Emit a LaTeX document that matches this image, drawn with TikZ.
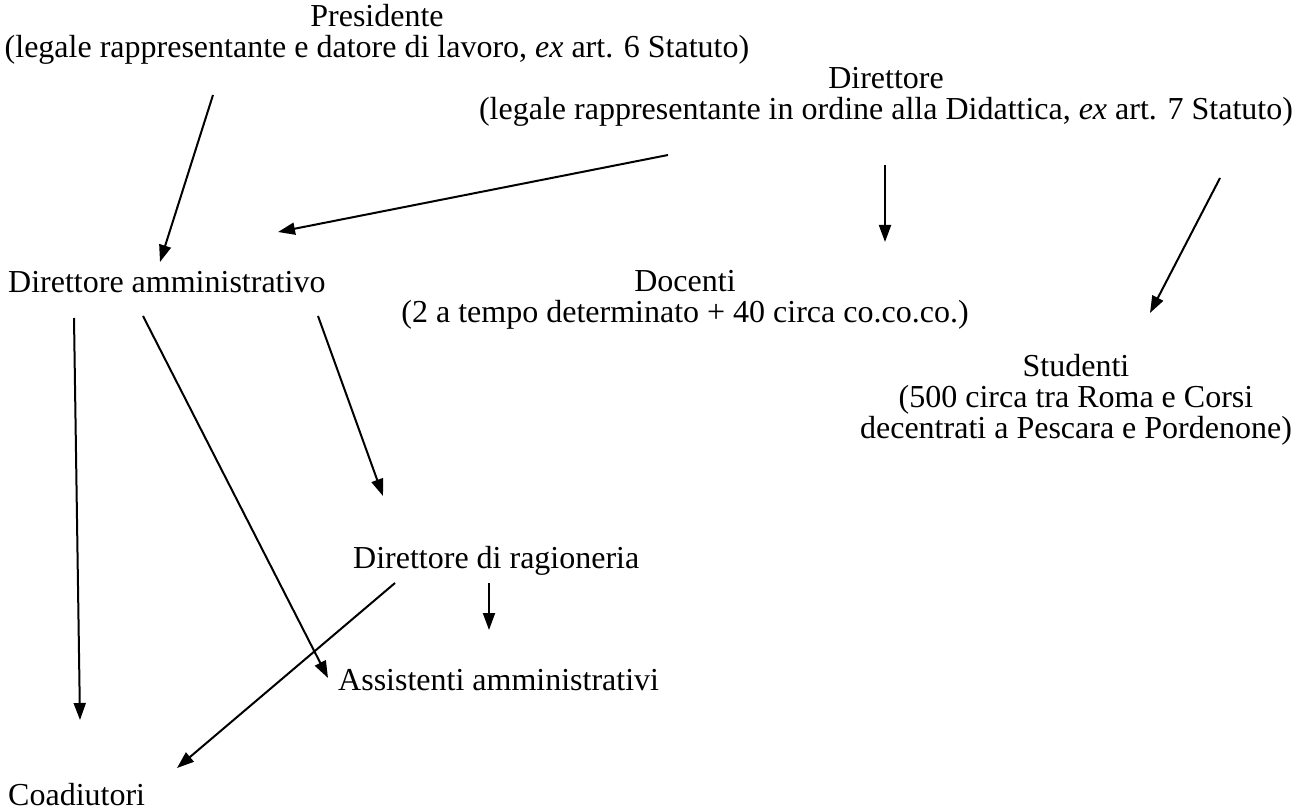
\documentclass[tikz,border=0pt]{standalone}
\usepackage{fontspec}
\setmainfont{Liberation Serif}
\usetikzlibrary{arrows.meta}

\tikzset{
  role/.style={inner sep=0pt, align=center, font=\fontsize{32}{31}\selectfont},
  arrow/.style={line width=2pt, -{Triangle[length=17pt,width=12pt]}}
}

\begin{document}
\begin{tikzpicture}[x=1pt, y=-1pt]
	\useasboundingbox[fill=white] (0,0) rectangle (1309,810);

	% people and bodies (anchor base = last line)
	\node[role, anchor=base] (pres) at (377,58) {Presidente\\(legale rappresentante e datore di lavoro, \emph{ex} art. 6 Statuto)};
	\node[role, anchor=base] (dir) at (886,120) {Direttore\\(legale rappresentante in ordine alla Didattica, \emph{ex} art. 7 Statuto)};
	\node[role, anchor=base west] (diram) at (8,293) {Direttore amministrativo};
	\node[role, anchor=base] (doc) at (685,323) {Docenti\\(2 a tempo determinato + 40 circa co.co.co.)};
	\node[role, anchor=base] (stud) at (1076,438) {Studenti\\(500 circa tra Roma e Corsi\\decentrati a Pescara e Pordenone)};
	\node[role, anchor=base west] (dirrag) at (353,568) {Direttore di ragioneria};
	\node[role, anchor=base west] (assist) at (338,690) {Assistenti amministrativi};
	\node[role, anchor=base west] (coad) at (8,805) {Coadiutori};

	% arrow ends
	\coordinate (pres-out) at (213,95);
	\coordinate (diram-in1) at (160,262);
	\coordinate (dir-out1) at (668,155);
	\coordinate (diram-in2) at (278,232);
	\coordinate (dir-out2) at (885,165);
	\coordinate (doc-in) at (885,242);
	\coordinate (dir-out3) at (1220,178);
	\coordinate (stud-in) at (1150,313);
	\coordinate (diram-out1) at (74,318);
	\coordinate (coad-in1) at (80,720);
	\coordinate (diram-out2) at (143,316);
	\coordinate (assist-in1) at (328,678);
	\coordinate (diram-out3) at (318,316);
	\coordinate (dirrag-in) at (383,496);
	\coordinate (dirrag-out1) at (395,583);
	\coordinate (coad-in2) at (177,768);
	\coordinate (dirrag-out2) at (489,583);
	\coordinate (assist-in2) at (489,630);

	\draw[arrow] (pres-out) -- (diram-in1);
	\draw[arrow] (dir-out1) -- (diram-in2);
	\draw[arrow] (dir-out2) -- (doc-in);
	\draw[arrow] (dir-out3) -- (stud-in);
	\draw[arrow] (diram-out1) -- (coad-in1);
	\draw[arrow] (diram-out2) -- (assist-in1);
	\draw[arrow] (diram-out3) -- (dirrag-in);
	\draw[arrow] (dirrag-out1) -- (coad-in2);
	\draw[arrow] (dirrag-out2) -- (assist-in2);
\end{tikzpicture}
\end{document}
